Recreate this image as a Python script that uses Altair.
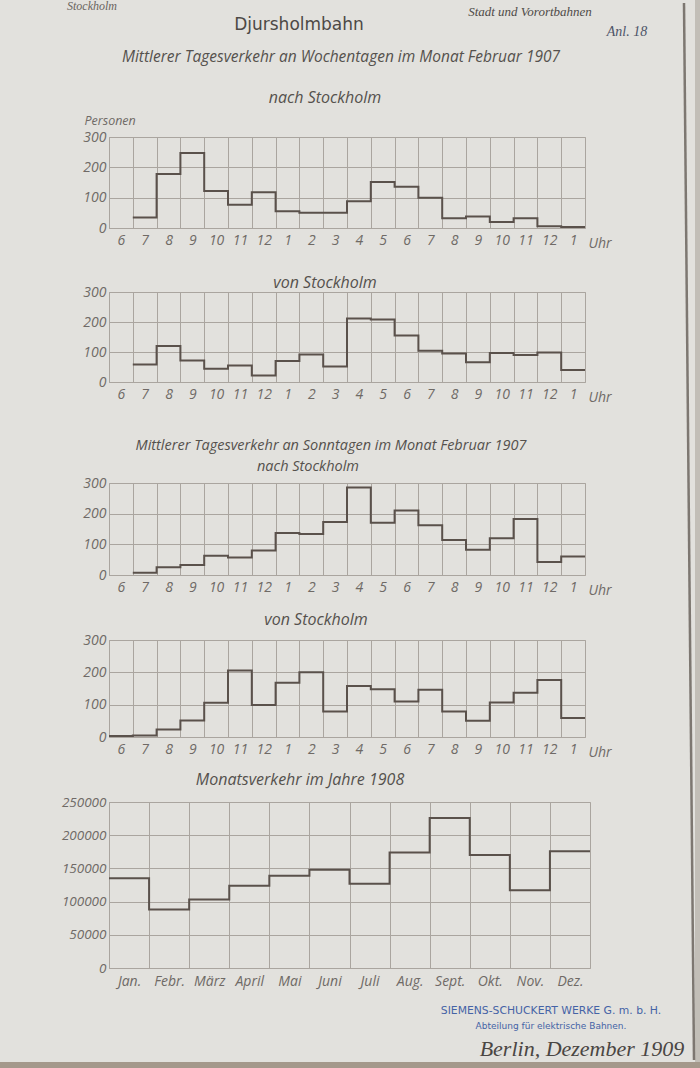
import json

import altair as alt
import pandas as pd

# Hour columns (6 Uhr morning to 1 Uhr night) and the monthly columns
hours = ["6", "7", "8", "9", "10", "11", "12", "1", "2", "3",
         "4", "5", "6", "7", "8", "9", "10", "11", "12", "1"]
months = ["Jan.", "Febr.", "März", "April", "Mai", "Juni",
          "Juli", "Aug.", "Sept.", "Okt.", "Nov.", "Dez."]

# Mittlerer Tagesverkehr an Wochentagen, Februar 1907 (Personen je Stunde)
werktag_nach = [None, 35, 178, 247, 122, 77, 118, 55, 50, 50,
                88, 152, 136, 100, 32, 38, 20, 32, 6, 3]
werktag_von = [None, 58, 120, 72, 44, 55, 22, 70, 92, 52,
               212, 208, 155, 104, 95, 66, 97, 90, 98, 40]

# Mittlerer Tagesverkehr an Sonntagen, Februar 1907
sonntag_nach = [None, 7, 25, 33, 63, 57, 80, 137, 134, 173,
                285, 170, 210, 162, 114, 82, 120, 183, 42, 60]
sonntag_von = [3, 5, 23, 51, 106, 206, 99, 168, 200, 79,
               158, 148, 110, 146, 79, 50, 107, 137, 176, 59]

# Monatsverkehr 1908 (Personen)
monat_1908 = [135000, 88000, 103000, 124000, 139000, 148000,
              127000, 174000, 226000, 170000, 117000, 176000]

PAPER = "#e2e1dd"
GRID = "#aaa59f"
INK = "#5a514b"
LABEL = "#6f6a66"
TITLE = "#55514d"
STAMP = "#4563a6"
FONT = "Open Sans"
SERIF = "Liberation Serif"
SANS = "DejaVu Sans"

LEFT = 109          # left edge of every plot area on the page
W_HOUR = 476
W_MONTH = 481

one = pd.DataFrame({"k": [0]})
no_frame = alt.ViewBackground(strokeOpacity=0)
frame = alt.ViewBackground(stroke=GRID, strokeWidth=1)


def note(text, x, y, size=14, color=TITLE, font=FONT, style="italic",
         weight="normal", align="center"):
    """Free text placed in page coordinates (x relative to the plot edge)."""
    return alt.Chart(one).mark_text(
        text=text, font=font, fontSize=size, fontStyle=style,
        fontWeight=weight, color=color, align=align, baseline="alphabetic",
    ).encode(x=alt.value(x - LEFT), y=alt.value(y))


def text_row(height, *notes, width=W_HOUR):
    return alt.layer(*notes).properties(width=width, height=height, view=no_frame)


def step_data(values):
    # repeat the last value so the final column gets its full step
    return pd.DataFrame({"pos": list(range(len(values) + 1)),
                         "v": list(values) + [values[-1]]})


def hour_panel(values, height, personen=False):
    colw = W_HOUR / len(hours)
    x_axis = alt.Axis(
        values=list(range(len(hours))),
        labelExpr=json.dumps(hours) + "[datum.value]",
        labelOffset=colw / 2, labelFlush=False, labelOverlap=False,
        labelPadding=5, labelFontSize=14, ticks=False, domain=False, grid=True,
        title="Uhr", titleX=W_HOUR + 3, titleY=19, titleAlign="left",
        titleBaseline="alphabetic", titleFontSize=14,
    )
    y_kw = dict(values=[0, 100, 200, 300], ticks=False, domain=False, grid=True,
                labelPadding=3, labelFontSize=14)
    if personen:
        y_kw.update(title="Personen", titleAngle=0, titleX=-25, titleY=-13,
                    titleAlign="left", titleBaseline="alphabetic", titleFontSize=12.5)
    else:
        y_kw.update(title=None)
    return alt.Chart(step_data(values)).mark_line(
        interpolate="step-after", color=INK, strokeWidth=2,
    ).encode(
        x=alt.X("pos:Q", scale=alt.Scale(domain=[0, len(hours)], nice=False, zero=False), axis=x_axis),
        y=alt.Y("v:Q", scale=alt.Scale(domain=[0, 300], nice=False), axis=alt.Axis(**y_kw)),
    ).properties(width=W_HOUR, height=height, view=frame)


def month_panel(values, height):
    colw = W_MONTH / len(months)
    x_axis = alt.Axis(
        values=list(range(len(months))),
        labelExpr=json.dumps(months) + "[datum.value]",
        labelOffset=colw / 2, labelFlush=False, labelOverlap=False,
        labelPadding=6, labelFontSize=14, ticks=False, domain=False, grid=True,
        title=None,
    )
    y_axis = alt.Axis(values=[0, 50000, 100000, 150000, 200000, 250000],
                      format="d", ticks=False, domain=False, grid=True,
                      labelPadding=3, labelFontSize=13.5, title=None)
    return alt.Chart(step_data(values)).mark_line(
        interpolate="step-after", color=INK, strokeWidth=2,
    ).encode(
        x=alt.X("pos:Q", scale=alt.Scale(domain=[0, len(months)], nice=False, zero=False), axis=x_axis),
        y=alt.Y("v:Q", scale=alt.Scale(domain=[0, 250000], nice=False), axis=y_axis),
    ).properties(width=W_MONTH, height=height, view=frame)


# page background, slanted right page edge and table strip at the bottom
paper = alt.Chart(one).mark_rect(color=PAPER).encode(
    x=alt.value(-LEFT), x2=alt.value(700 - LEFT), y=alt.value(0), y2=alt.value(1068))
edge = alt.Chart(one).mark_rect(color="#c2beb7").encode(
    x=alt.value(695 - LEFT), x2=alt.value(700 - LEFT), y=alt.value(0), y2=alt.value(1068))
edge_line = alt.Chart(one).mark_rule(color="#7d7771", strokeWidth=2.5).encode(
    x=alt.value(684 - LEFT), x2=alt.value(694 - LEFT), y=alt.value(3), y2=alt.value(1060))
table = alt.Chart(one).mark_rect(color="#a4988b").encode(
    x=alt.value(-LEFT), x2=alt.value(700 - LEFT), y=alt.value(1062), y2=alt.value(1068))

header = alt.layer(
    paper, edge, edge_line, table,
    note("Stockholm", 92, 10, size=12, color="#6a6560", font=SERIF),
    note("Djursholmbahn", 299, 30, size=17, style="normal", color="#4d4946", font=SANS),
    note("Stadt und Vorortbahnen", 530, 16, size=13, font=SERIF, color="#4f4b48"),
    note("Anl. 18", 627, 36, size=14, font=SERIF, color="#4d5468"),
    note("Mittlerer Tagesverkehr an Wochentagen im Monat Februar 1907", 341, 62, size=15.5),
    note("nach Stockholm", 325, 103, size=16),
).properties(width=W_HOUR, height=137, view=no_frame)

p1 = hour_panel(werktag_nach, 91, personen=True)
s1 = text_row(64, note("von Stockholm", 325, 288 - 228, size=16))
p2 = hour_panel(werktag_von, 90)
s2 = text_row(101,
              note("Mittlerer Tagesverkehr an  Sonntagen im Monat Februar 1907", 331, 450 - 382, size=14.5),
              note("nach Stockholm", 308, 471 - 382, size=14.5))
p3 = hour_panel(sonntag_nach, 92)
s3 = text_row(65, note("von Stockholm", 316, 625 - 575, size=16))
p4 = hour_panel(sonntag_von, 97)
s4 = text_row(65, note("Monatsverkehr im Jahre 1908", 300, 785 - 737, size=16))
p5 = month_panel(monat_1908, 166)
footer = text_row(
    100,
    note("SIEMENS-SCHUCKERT WERKE G. m. b. H.", 551, 1014 - 968, size=10.8, style="normal",
         color=STAMP, font=SANS),
    note("Abteilung für elektrische Bahnen.", 551, 1029 - 968, size=9, style="normal",
         color=STAMP, font=SANS),
    note("Berlin, Dezember 1909", 582, 1056 - 968, size=22, font=SERIF, color="#4a4643"),
    width=W_MONTH,
)

chart = alt.vconcat(
    header, p1, s1, p2, s2, p3, s3, p4, s4, p5, footer,
    spacing=0, bounds="flush",
).properties(
    padding=0, background=PAPER,
).configure_axis(
    labelColor=LABEL, labelFont=FONT, labelFontStyle="italic",
    titleColor=LABEL, titleFont=FONT, titleFontStyle="italic", titleFontWeight="normal",
    gridColor=GRID, gridWidth=1, gridOpacity=1,
)

chart.save("out.html", embed_options={"renderer": "svg", "actions": False})
